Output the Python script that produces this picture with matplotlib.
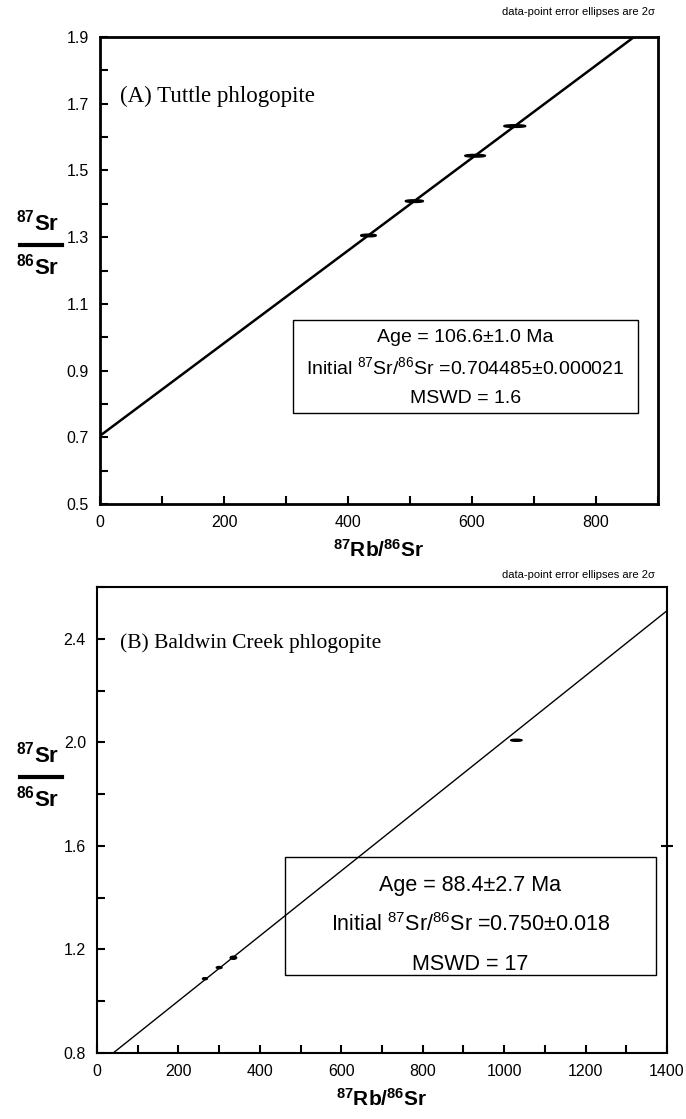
import matplotlib.pyplot as plt
from matplotlib.patches import Ellipse, Rectangle
from matplotlib.ticker import MultipleLocator

plt.rcParams["font.family"] = ["Liberation Sans", "DejaVu Sans"]
plt.rcParams["mathtext.fontset"] = "custom"
plt.rcParams["mathtext.rm"] = "Liberation Sans"
plt.rcParams["mathtext.bf"] = "Liberation Sans:bold"

# (A) Tuttle phlogopite
a_rb = [433, 507, 605, 669]
a_sr = [1.305, 1.408, 1.544, 1.633]
a_rb_err = [12, 14, 16, 17]
a_sr_err = [0.003, 0.003, 0.003, 0.003]
a_intercept = 0.704485
a_slope = 0.001388
a_yticks = [0.5, 0.7, 0.9, 1.1, 1.3, 1.5, 1.7, 1.9]
a_lines = ["Age = 106.6±1.0 Ma",
           "Initial $^{87}$Sr/$^{86}$Sr =0.704485±0.000021",
           "MSWD = 1.6"]

# (B) Baldwin Creek phlogopite
b_rb = [265, 300, 335, 1030]
b_sr = [1.087, 1.13, 1.168, 2.008]
b_rb_err = [6, 7, 8, 14]
b_sr_err = [0.004, 0.004, 0.006, 0.004]
b_intercept = 0.750
b_slope = 0.001256
b_yticks = [0.8, 1.2, 1.6, 2.0, 2.4]
b_lines = ["Age = 88.4±2.7 Ma",
           "Initial $^{87}$Sr/$^{86}$Sr =0.750±0.018",
           "MSWD = 17"]

W, H = 686, 1119
fig = plt.figure(figsize=(W / 100, H / 100), dpi=100)


def px(x0, y0, x1, y1):
    return [x0 / W, 1 - y1 / H, (x1 - x0) / W, (y1 - y0) / H]


def panel(ax, xlim, ylim, yticks, ymin, spine_w):
    ax.set_xlim(*xlim)
    ax.set_ylim(*ylim)
    ax.xaxis.set_major_locator(MultipleLocator(200))
    ax.xaxis.set_minor_locator(MultipleLocator(100))
    ax.set_yticks(yticks)
    ax.set_yticklabels([f"{v:.1f}" for v in yticks])
    ax.yaxis.set_minor_locator(MultipleLocator(ymin))
    ax.tick_params(which="both", direction="in", length=6, width=1.5,
                   labelsize=11.5, pad=8, top=False, right=False)
    for s in ax.spines.values():
        s.set_linewidth(spine_w)


axA = fig.add_axes(px(100, 37, 658, 504))
panel(axA, (0, 900), (0.5, 1.9), a_yticks, 0.1, 2.0)
xs = [0, 900]
axA.plot(xs, [a_intercept + a_slope * x for x in xs], color="k", lw=1.8)
for x, y, ex, ey in zip(a_rb, a_sr, a_rb_err, a_sr_err):
    axA.add_patch(Ellipse((x, y), 2 * ex, 2 * ey, fc="k", ec="k", lw=1.5))
axA.text(0.036, 0.86, "(A) Tuttle phlogopite", transform=axA.transAxes,
         family="Liberation Serif", fontsize=16.5)
axA.add_patch(Rectangle((0.345, 0.195), 0.62, 0.198, transform=axA.transAxes,
                        fc="white", ec="k", lw=1.0))
for i, t in enumerate(a_lines):
    axA.text(0.655, 0.357 - i * 0.066, t, transform=axA.transAxes,
             ha="center", va="center", fontsize=14)
axA.set_xlabel(r"$\mathbf{^{87}Rb/^{86}Sr}$", fontsize=15, labelpad=6)
fig.text(655 / W, 1 - 12 / H, "data-point error ellipses are 2σ",
         ha="right", va="center", fontsize=8)

axB = fig.add_axes(px(97, 587, 667, 1053))
panel(axB, (0, 1400), (0.8, 2.6), b_yticks, 0.2, 1.5)
xs = [0, 1400]
axB.plot(xs, [b_intercept + b_slope * x for x in xs], color="k", lw=1.0)
for x, y, ex, ey in zip(b_rb, b_sr, b_rb_err, b_sr_err):
    axB.add_patch(Ellipse((x, y), 2 * ex, 2 * ey, fc="k", ec="k", lw=1.0))
axB.text(0.04, 0.87, "(B) Baldwin Creek phlogopite", transform=axB.transAxes,
         family="Liberation Serif", fontsize=15.5)
axB.add_patch(Rectangle((0.33, 0.168), 0.65, 0.252, transform=axB.transAxes,
                        fc="white", ec="k", lw=1.0))
for i, t in enumerate(b_lines):
    axB.text(0.655, 0.36 - i * 0.085, t, transform=axB.transAxes,
             ha="center", va="center", fontsize=15.5)
axB.set_xlabel(r"$\mathbf{^{87}Rb/^{86}Sr}$", fontsize=15, labelpad=6)
fig.text(655 / W, 1 - 575 / H, "data-point error ellipses are 2σ",
         ha="right", va="center", fontsize=8)
axB.plot([1400], [1.6], marker="_", ms=8, mew=1.5, color="k", clip_on=False)

# fraction-style y labels
for yc in (245, 777):
    fig.text(38 / W, 1 - (yc - 22) / H, r"$\mathbf{^{87}Sr}$", ha="center",
             va="center", fontsize=16)
    fig.text(38 / W, 1 - (yc + 22) / H, r"$\mathbf{^{86}Sr}$", ha="center",
             va="center", fontsize=16)
    fig.add_artist(plt.Line2D([20 / W, 62 / W], [1 - yc / H, 1 - yc / H],
                              color="k", lw=3, transform=fig.transFigure))

fig.savefig("out.png", dpi=100)
